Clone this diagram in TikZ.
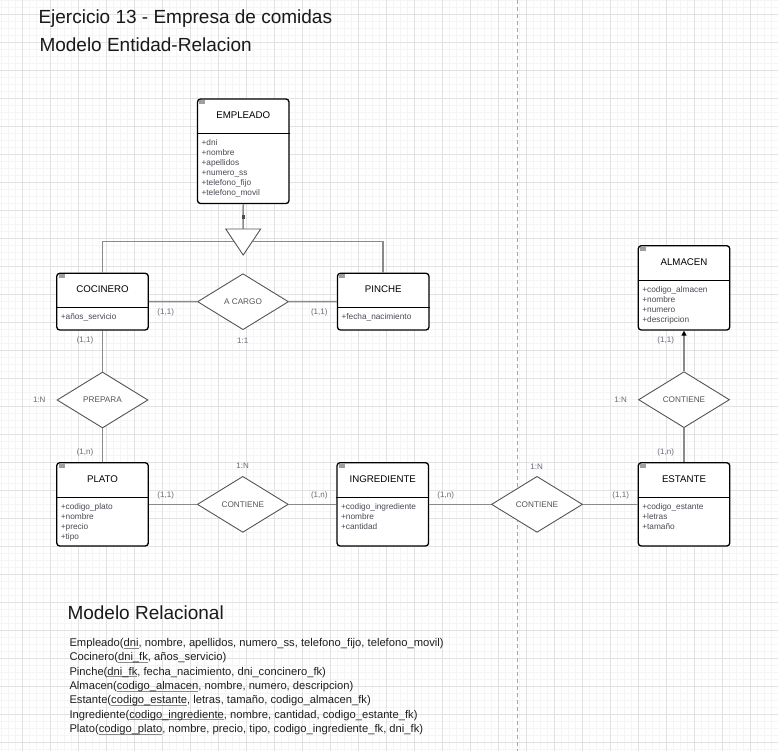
\documentclass[tikz,border=0pt]{standalone}
\usepackage{fontspec}
\setmainfont{Liberation Sans}
\usetikzlibrary{shapes.geometric,arrows.meta}
\definecolor{majgrid}{HTML}{E2E2E2}
\definecolor{mingrid}{HTML}{F5F5F5}
\definecolor{conncol}{HTML}{8A8A8A}
\definecolor{diacol}{HTML}{555555}
\definecolor{labcol}{HTML}{6A6A7A}
\definecolor{attrcol}{HTML}{4A4A55}
\definecolor{ulgray}{HTML}{8A8A8A}
\newcommand\ukey[1]{\setbox0\hbox{#1}\rlap{\color{ulgray}\rule[-1.8pt]{\wd0}{0.7pt}}\box0}
\tikzset{
  entity/.style={draw=black, line width=1.3pt, rounded corners=3pt, fill=white, minimum width=91.5pt, inner sep=0pt},
  etitle/.style={font=\fontsize{9.7}{11}\selectfont, text=black, inner sep=0pt},
  attr/.style={font=\fontsize{8.3}{10}\selectfont, text=attrcol, inner sep=0pt, align=left},
  sepline/.style={draw=black, line width=1.1pt},
  icon/.style={fill=gray!75, minimum width=6pt, minimum height=4pt, inner sep=0pt},
  rel/.style={diamond, draw=diacol, line width=0.9pt, fill=white, minimum width=91pt, minimum height=56pt, inner sep=0pt, font=\fontsize{8.2}{10}\selectfont, text=diacol},
  conn/.style={draw=conncol, line width=1.5pt},
  lab/.style={font=\fontsize{8}{10}\selectfont, text=labcol, inner sep=0pt},
  bigtitle/.style={font=\fontsize{19}{22}\selectfont, text=black!90, inner sep=0pt, anchor=base west},
  reltext/.style={font=\fontsize{11.2}{14.3}\selectfont, text=black!88, inner sep=0pt, align=left, anchor=north west}
}
\begin{document}
\begin{tikzpicture}[x=1pt,y=-1pt]
\useasboundingbox (0,0) rectangle (778,751);
\fill[white] (0,0) rectangle (778,751);
% grid
\foreach \x in {1,8,...,778} \draw[mingrid, line width=0.5pt] (\x,0) -- (\x,751);
\foreach \y in {0,7,...,751} \draw[mingrid, line width=0.5pt] (0,\y) -- (778,\y);
\foreach \x in {22,50,...,778} \draw[majgrid, line width=0.8pt] (\x,0) -- (\x,751);
\foreach \y in {14,42,...,751} \draw[majgrid, line width=0.8pt] (0,\y) -- (778,\y);
\draw[gray!70, line width=0.8pt, dash pattern=on 4pt off 3pt] (517.3,0) -- (517.3,751);

% titles
\node[bigtitle] (t1) at (38.3,24) {Ejercicio 13 - Empresa de comidas};
\node[bigtitle] (t2) at (39.3,51.7) {Modelo Entidad-Relacion};
\node[bigtitle] (t3) at (67.3,619) {Modelo Relacional};

% entities
\node[entity, minimum height=104.5pt] (emp) at (243.25,151.25) {};
\node[entity, minimum height=56.7pt] (coc) at (102.5,301.65) {};
\node[entity, minimum height=56.7pt] (pin) at (383.2,301.65) {};
\node[entity, minimum height=83.3pt] (pla) at (102.5,504.35) {};
\node[entity, minimum height=83.3pt] (ing) at (382.8,504.35) {};
\node[entity, minimum height=83.3pt] (est) at (684,504.35) {};
\node[entity, minimum height=84.3pt] (alm) at (684,287.85) {};

\foreach \e/\t in {emp/EMPLEADO, coc/COCINERO, pin/PINCHE, pla/PLATO, ing/INGREDIENTE, est/ESTANTE, alm/ALMACEN}{
  \node[etitle] (\e T) at ([yshift=-17pt]\e.north) {\t};
  \draw[sepline] ([yshift=-35pt]\e.north west) -- ([yshift=-35pt]\e.north east);
  \node[icon] (\e I) at ([xshift=5.5pt,yshift=-3.8pt]\e.north west) {};
}
\node[attr, anchor=north west] (empA) at ([xshift=4.5pt,yshift=-40.8pt]emp.north west) {+dni\\+nombre\\+apellidos\\+numero\_ss\\+telefono\_fijo\\+telefono\_movil};
\node[attr, anchor=north west] (cocA) at ([xshift=4.5pt,yshift=-40.8pt]coc.north west) {+años\_servicio};
\node[attr, anchor=north west] (pinA) at ([xshift=4.5pt,yshift=-40.8pt]pin.north west) {+fecha\_nacimiento};
\node[attr, anchor=north west] (plaA) at ([xshift=4.5pt,yshift=-40.8pt]pla.north west) {+codigo\_plato\\+nombre\\+precio\\+tipo};
\node[attr, anchor=north west] (ingA) at ([xshift=4.5pt,yshift=-40.8pt]ing.north west) {+codigo\_ingrediente\\+nombre\\+cantidad};
\node[attr, anchor=north west] (estA) at ([xshift=4.5pt,yshift=-40.8pt]est.north west) {+codigo\_estante\\+letras\\+tamaño};
\node[attr, anchor=north west] (almA) at ([xshift=4.5pt,yshift=-40.8pt]alm.north west) {+codigo\_almacen\\+nombre\\+numero\\+descripcion};

% relationships
\node[rel] (acargo) at (243,301.7) {A CARGO};
\node[rel] (prepara) at (102.5,400) {PREPARA};
\node[rel] (cont1) at (242.8,504.35) {CONTIENE};
\node[rel] (cont2) at (537,504.35) {CONTIENE};
\node[rel] (cont3) at (684,399.7) {CONTIENE};

% specialization
\coordinate (tri) at (243.2,229);
\coordinate (hl) at (243.2,241.7);
\draw[conn] (coc.north) |- (hl) -| (pin.north);
\draw[conn] (emp.south) -- (tri);
\fill[black!70] (241.9,215.5) rectangle (244.5,219.5);
\draw[draw=diacol, line width=0.9pt, fill=white] (tri) -- ++(-17.5,0) -- (243.2,255) -- (260.7,229) -- cycle;

% connectors
\draw[conn] (coc.east) -- (acargo.west);
\draw[conn] (acargo.east) -- (pin.west);
\draw[conn] (coc.south) -- (prepara.north);
\draw[conn] (prepara.south) -- (pla.north);
\draw[conn] (pla.east) -- (cont1.west);
\draw[conn] (cont1.east) -- (ing.west);
\draw[conn] (ing.east) -- (cont2.west);
\draw[conn] (cont2.east) -- (est.west);
\draw[conn] (est.north) -- (cont3.south);
\draw[conn, -{Triangle[width=5pt,length=5pt,color=black]}] (cont3.north) -- (alm.south);

% labels
\node[lab] (l1) at (165.7,312.7) {(1,1)};
\node[lab] (l2) at (319.3,312.7) {(1,1)};
\node[lab] (l3) at (242.7,340.7) {1:1};
\node[lab] (l4) at (85,340.7) {(1,1)};
\node[lab] (l5) at (39.3,399.3) {1:N};
\node[lab] (l6) at (85,452.7) {(1,n)};
\node[lab] (l7) at (165.7,495) {(1,1)};
\node[lab] (l8) at (242.7,466) {1:N};
\node[lab] (l9) at (319.3,495) {(1,n)};
\node[lab] (l10) at (445.7,495) {(1,n)};
\node[lab] (l11) at (536.7,466.5) {1:N};
\node[lab] (l12) at (620.7,495) {(1,1)};
\node[lab] (l13) at (665.7,340.7) {(1,1)};
\node[lab] (l14) at (620.7,399.3) {1:N};
\node[lab] (l15) at (665.7,452.3) {(1,n)};

% relational model
\node[reltext] (rm) at (69.3,638.3) {%
Empleado(\ukey{dni}, nombre, apellidos, numero\_ss, telefono\_fijo, telefono\_movil)\\
Cocinero(\ukey{dni\_fk}, años\_servicio)\\
Pinche(\ukey{dni\_fk}, fecha\_nacimiento, dni\_concinero\_fk)\\
Almacen(\ukey{codigo\_almacen}, nombre, numero, descripcion)\\
Estante(\ukey{codigo\_estante}, letras, tamaño, codigo\_almacen\_fk)\\
Ingrediente(\ukey{codigo\_ingrediente}, nombre, cantidad, codigo\_estante\_fk)\\
Plato(\ukey{codigo\_plato}, nombre, precio, tipo, codigo\_ingrediente\_fk, dni\_fk)};
\end{tikzpicture}
\end{document}
